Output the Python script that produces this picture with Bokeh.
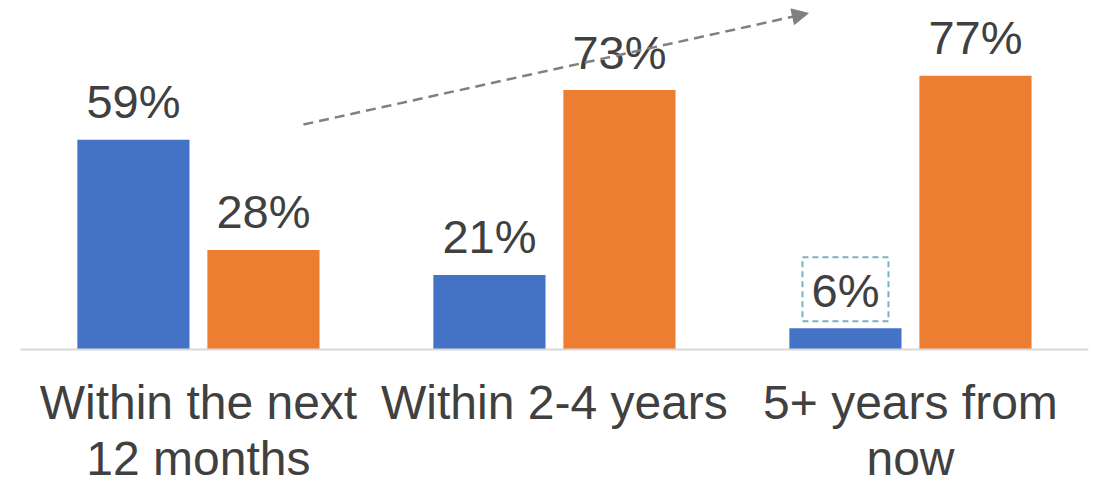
from bokeh.plotting import figure
from bokeh.models import Range1d, Arrow, NormalHead, ColumnDataSource
from bokeh.core.properties import value
from bokeh.embed import file_html
from bokeh.resources import INLINE

# ---- data ----
categories = ["Within the next\n12 months", "Within 2-4 years", "5+ years from\nnow"]
series_a = [59, 21, 6]      # blue
series_b = [28, 73, 77]     # orange
labels_a = ["59%", "21%", "6%"]
labels_b = ["28%", "73%", "77%"]
highlight_index = 2         # dashed box around this blue label

# ---- styling / layout ----
BLUE = "#4472C4"
ORANGE = "#ED7D31"
TEXT = "#404040"
FONT = "Liberation Sans"
OFFSET = 0.1826
BAR_W = 0.315
Y0, Y1 = -37.7, 98.2
H = 483
PX_PER_UNIT = H / (Y1 - Y0)

idx = list(range(len(categories)))
xa = [i - OFFSET for i in idx]
xb = [i + OFFSET for i in idx]

p = figure(width=1099, height=H,
           x_range=Range1d(-0.556, 2.531), y_range=Range1d(Y0, Y1),
           output_backend="svg", toolbar_location=None,
           x_axis_location=None, y_axis_location=None,
           min_border=0, outline_line_color=None)
p.grid.visible = False
p.background_fill_color = "white"
p.border_fill_color = "white"

src_a = ColumnDataSource(dict(x=xa, top=series_a, label=labels_a))
src_b = ColumnDataSource(dict(x=xb, top=series_b, label=labels_b))

p.vbar(x="x", top="top", bottom=0, width=BAR_W, source=src_a,
       fill_color=BLUE, line_color=None)
p.vbar(x="x", top="top", bottom=0, width=BAR_W, source=src_b,
       fill_color=ORANGE, line_color=None)

# baseline
p.segment(x0=[idx[0] - 0.5], y0=[0], x1=[idx[-1] + 0.5], y1=[0],
          line_color="#d9d9d9", line_width=2)

# value labels
for src in (src_a, src_b):
    p.text(x="x", y="top", text="label", source=src,
           text_font=value(FONT), text_font_size="47px", text_color=TEXT,
           text_align="center", text_baseline="alphabetic", y_offset=-38)

# category labels
p.text(x=idx, y=[0] * len(idx), text=categories,
       text_font=value(FONT), text_font_size="48px", text_color=TEXT,
       text_align="center", text_baseline="top", y_offset=26,
       text_line_height=1.07)

# dashed box around highlighted label
p.rect(x=[xa[highlight_index]], y=[series_a[highlight_index] + 39 / PX_PER_UNIT],
       width=86, height=64, width_units="screen", height_units="screen",
       fill_color=None, line_color="#79b3bf",
       line_width=2, line_dash="6 4")

# trend arrow
arrow_start = (0.295, 63.3)
arrow_end = (1.713, 94.6)
p.add_layout(Arrow(end=NormalHead(size=16, fill_color="#808080", line_color="#808080"),
                   x_start=arrow_start[0], y_start=arrow_start[1],
                   x_end=arrow_end[0], y_end=arrow_end[1],
                   line_color="#808080", line_width=2.5, line_dash="10 6"))

open("out.html", "w").write(file_html(p, INLINE))
